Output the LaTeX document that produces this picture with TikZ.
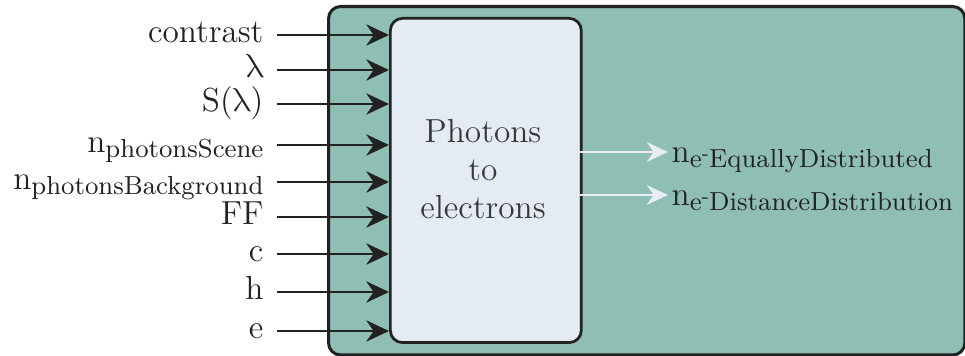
\documentclass[tikz,border=0pt]{standalone}
\usepackage{fontspec}
\usetikzlibrary{arrows.meta}
\newfontfamily\lmmath{Latin Modern Math}
\definecolor{outerfill}{HTML}{8FBFB4}
\definecolor{innerfill}{HTML}{E4EBF2}
\definecolor{linecol}{HTML}{222222}
\definecolor{outarrow}{HTML}{E8EEF4}
\newcommand{\uplam}{{\lmmath λ}}
\newcommand{\mysub}[1]{\raisebox{-0.32ex}{\fontsize{8.6}{10}\selectfont #1}}
\newcommand{\mysup}[1]{\raisebox{0.75ex}{\fontsize{6}{7}\selectfont #1}}
\begin{document}
\begin{tikzpicture}[x=0.33pt,y=-0.33pt,
  inarrow/.style={draw=linecol,line width=0.95pt,-{Stealth[length=7.5pt,width=7pt]}},
  outarr/.style={draw=outarrow,line width=0.8pt,-{Stealth[length=7pt,width=6.5pt]}},
  lab/.style={anchor=east,inner sep=0pt,text=linecol,font=\fontsize{11}{13}\selectfont},
  rlab/.style={anchor=west,inner sep=0pt,text=linecol,font=\fontsize{11}{13}\selectfont}]
\useasboundingbox (0,0) rectangle (965,356);
\node[draw=linecol,line width=1pt,fill=outerfill,rounded corners=4pt,inner sep=0pt,anchor=north west,
  minimum width=210pt,minimum height=115pt] (outer) at (327,5) {};
\node[draw=linecol,line width=0.9pt,fill=innerfill,rounded corners=4pt,inner sep=0pt,anchor=north west,
  minimum width=63pt,minimum height=107pt] (inner) at (389,17) {};
\node[align=center,text=linecol!90,font=\fontsize{11}{12.6}\selectfont,inner sep=0pt] (innertext) at (483,169) {Photons\\to\\electrons};
\foreach \y/\t [count=\i] in {35/contrast,70/\uplam,104/S(\uplam),145/{n\mysub{photonsScene}},182/{n\mysub{photonsBackground}},217/FF,254/c,292/h,331/e}{
  \coordinate (s\i) at (277,\y);
  \coordinate (e\i) at (389,\y);
  \node[lab] (l\i) at (264,\y) {\strut\t};
  \draw[inarrow] (s\i) -- (e\i);
}
\coordinate (o1s) at (580,152); \coordinate (o1e) at (668,152);
\coordinate (o2s) at (580,195); \coordinate (o2e) at (668,195);
\draw[outarr] (o1s) -- (o1e);
\draw[outarr] (o2s) -- (o2e);
\node[rlab] (r1) at (671,155) {\strut n\mysub{e\mysup{-}EquallyDistributed}};
\node[rlab] (r2) at (671,198) {\strut n\mysub{e\mysup{-}DistanceDistribution}};
\end{tikzpicture}
\end{document}
